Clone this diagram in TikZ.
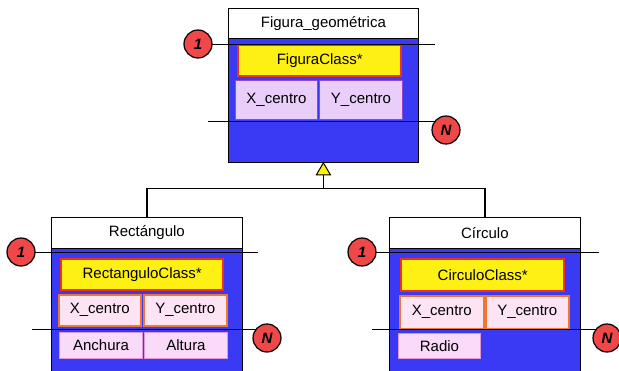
\documentclass[tikz,border=0pt]{standalone}
\usepackage{fontspec}
\setmainfont{Liberation Sans}
\definecolor{bodyblue}{RGB}{58,58,245}
\definecolor{clsyellow}{RGB}{255,240,20}
\definecolor{clsred}{RGB}{235,50,30}
\definecolor{lav}{RGB}{232,206,248}
\definecolor{lavborder}{RGB}{150,70,200}
\definecolor{pinkfill}{RGB}{252,228,244}
\definecolor{orangeb}{RGB}{238,120,50}
\definecolor{pinkc}{RGB}{249,218,248}
\definecolor{pinkcb}{RGB}{220,150,220}
\definecolor{badge}{RGB}{240,72,72}
\tikzset{
  txt/.style={font=\fontsize{15}{17}\selectfont, inner sep=0pt, anchor=north west},
  header/.style={txt, draw=black, fill=white, line width=0.8pt, anchor=north west},
  body/.style={draw=black, fill=bodyblue, line width=0.8pt, inner sep=0pt, anchor=north west},
  cls/.style={txt, draw=clsred, fill=clsyellow, line width=2.4pt},
  attra/.style={txt, draw=lavborder, fill=lav, line width=1pt},
  attrb/.style={txt, draw=orangeb, fill=pinkfill, line width=1.6pt},
  attrc/.style={txt, draw=pinkcb, fill=pinkc, line width=1pt},
  badgestyle/.style={circle, draw=black, fill=badge, line width=1.2pt, minimum size=28pt, inner sep=0pt, font=\fontsize{15}{15}\selectfont\bfseries\itshape},
  rule/.style={draw=black, line width=1pt},
  conn/.style={draw=black, line width=1.2pt},
}
\begin{document}
\begin{tikzpicture}[x=1pt,y=-1pt]
\useasboundingbox (0,0) rectangle (619,370);
% ---------- top class ----------
\node[body, minimum width=190pt, minimum height=124pt] (fbody) at (228,38) {};
\node[header, minimum width=190pt, minimum height=30pt] (fhead) at (228,8) {Figura\_geométrica};
\node[cls, minimum width=163pt, minimum height=31pt] (fcls) at (237,44) {FiguraClass*};
\node[attra, minimum width=82pt, minimum height=39pt] (fx) at (235,80) {X\_centro};
\node[attra, minimum width=83pt, minimum height=39pt] (fy) at (319,80) {Y\_centro};
\draw[rule] (210,44) -- (435,44);
\draw[rule] (208,121) -- (443,121);
\node[badgestyle] (f1) at (198,44) {1};
\node[badgestyle] (fN) at (446,130) {N};
% ---------- Rectangulo ----------
\node[body, minimum width=191pt, minimum height=130pt] (rbody) at (51,248) {};
\node[header, minimum width=191pt, minimum height=31pt] (rhead) at (51,217) {Rectángulo};
\node[cls, minimum width=162pt, minimum height=31pt] (rcls) at (60,258) {RectanguloClass*};
\node[attrb, minimum width=82pt, minimum height=31pt] (rx) at (58,294) {X\_centro};
\node[attrb, minimum width=83pt, minimum height=31pt] (ry) at (143,294) {Y\_centro};
\node[attrc, minimum width=83pt, minimum height=26pt] (ra) at (59,332) {Anchura};
\node[attrc, minimum width=83pt, minimum height=26pt] (rh) at (144,332) {Altura};
\draw[rule] (32,252) -- (258,252);
\draw[rule] (32,329) -- (257,329);
\node[badgestyle] (r1) at (21,252) {1};
\node[badgestyle] (rN) at (267,338) {N};
% ---------- Circulo ----------
\node[body, minimum width=191pt, minimum height=130pt] (cbody) at (389,248) {};
\node[header, minimum width=191pt, minimum height=31pt] (chead) at (389,217) {Círculo};
\node[cls, minimum width=163pt, minimum height=32pt] (ccls) at (400,258) {CirculoClass*};
\node[attrb, minimum width=84pt, minimum height=33pt] (cx) at (399,295) {X\_centro};
\node[attrb, minimum width=83pt, minimum height=33pt] (cy) at (485,295) {Y\_centro};
\node[attrc, minimum width=82pt, minimum height=25pt] (cr) at (398,333) {Radio};
\draw[rule] (373,252) -- (599,252);
\draw[rule] (372,329) -- (603,329);
\node[badgestyle] (c1) at (362,252) {1};
\node[badgestyle] (cN) at (607,338) {N};
% ---------- inheritance ----------
\draw[conn] (fbody.south) ++(0,12) coordinate (tb) -- ++(0,14) coordinate (j);
\draw[conn] (rhead.north) |- (j) -| (chead.north);
\draw[draw=black, fill=yellow, line width=1pt] (fbody.south) -- ++(7,12) -- ++(-14,0) -- cycle;
\end{tikzpicture}
\end{document}
